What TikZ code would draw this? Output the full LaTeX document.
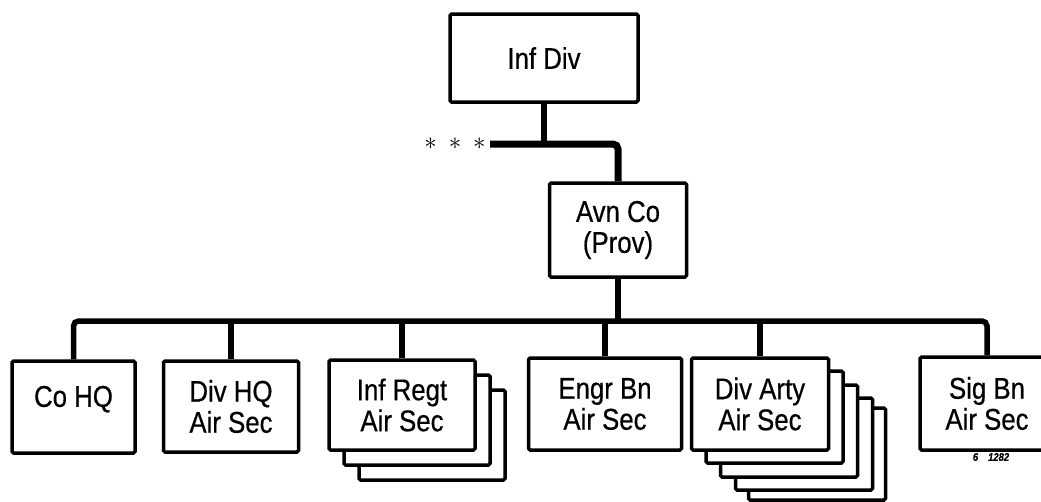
\documentclass[tikz,border=0pt]{standalone}
\usepackage{fontspec}
\setmainfont{Liberation Sans}[FakeStretch=0.86,FakeBold=0.5]
\begin{document}
\begin{tikzpicture}[x=1pt,y=-1pt,
  box/.style={draw, line width=3.5pt, fill=white, rounded corners=1.5pt,
    inner sep=0pt, align=center, font=\fontsize{30}{31}\selectfont},
  conn/.style={line width=6pt, rounded corners=5pt},
  busline/.style={line width=5.5pt, rounded corners=5pt}]
\useasboundingbox (0,0) rectangle (1041,501);
\clip (0,0) rectangle (1041,501);

% top
\node[box, minimum width=188pt, minimum height=88pt] (infdiv) at (544,58) {Inf Div};
\node[box, minimum width=137pt, minimum height=94pt] (avnco) at (618,230) {Avn Co\\(Prov)};
\coordinate (barL) at (490,144);
\coordinate (bus) at (0,321);
\node[font=\fontsize{26}{26}\selectfont] (stars) at (455,144) {$\ast$\hspace{12pt}$\ast$\hspace{12pt}$\ast$};
\draw[conn] (infdiv.south) -- (infdiv.south |- barL);
\draw[conn, line width=7pt] (barL) -| (avnco.north);

% stacked copies (back first)
\node[box, minimum width=146pt, minimum height=90pt] (infregtC) at (432,435) {};
\node[box, minimum width=146pt, minimum height=90pt] (infregtB) at (417,420) {};
\node[box, minimum width=137pt, minimum height=92pt] (divartyE) at (817,454) {};
\node[box, minimum width=137pt, minimum height=92pt] (divartyD) at (804,444) {};
\node[box, minimum width=137pt, minimum height=92pt] (divartyC) at (789,431) {};
\node[box, minimum width=137pt, minimum height=92pt] (divartyB) at (774.5,417) {};

% bottom row
\node[box, minimum width=123pt, minimum height=92pt] (cohq) at (73.5,407) {Co HQ\\[-19pt]\strut};
\node[box, minimum width=135pt, minimum height=91pt] (divhq) at (231,406.5) {Div HQ\\Air Sec};
\node[box, minimum width=146pt, minimum height=90pt] (infregt) at (402,405) {Inf Regt\\Air Sec};
\node[box, minimum width=153pt, minimum height=92pt] (engrbn) at (605,404) {Engr Bn\\Air Sec};
\node[box, minimum width=137pt, minimum height=92pt] (divarty) at (760,404) {Div Arty\\Air Sec};
\node[box, minimum width=134pt, minimum height=93pt] (sigbn) at (987,403.5) {Sig Bn\\Air Sec};

\node[font=\fontsize{11}{11}\selectfont\bfseries\itshape] (tag) at (991,457) {6\hspace{10pt}1282};

% connectors
\draw[conn] (avnco.south) -- (avnco.south |- bus);
\draw[busline] (cohq.north) |- (sigbn.north |- bus) -- (sigbn.north);
\draw[conn] (divhq.north) -- (divhq.north |- bus);
\draw[conn] (infregt.north) -- (infregt.north |- bus);
\draw[conn] (engrbn.north) -- (engrbn.north |- bus);
\draw[conn] (divarty.north) -- (divarty.north |- bus);
\end{tikzpicture}
\end{document}
